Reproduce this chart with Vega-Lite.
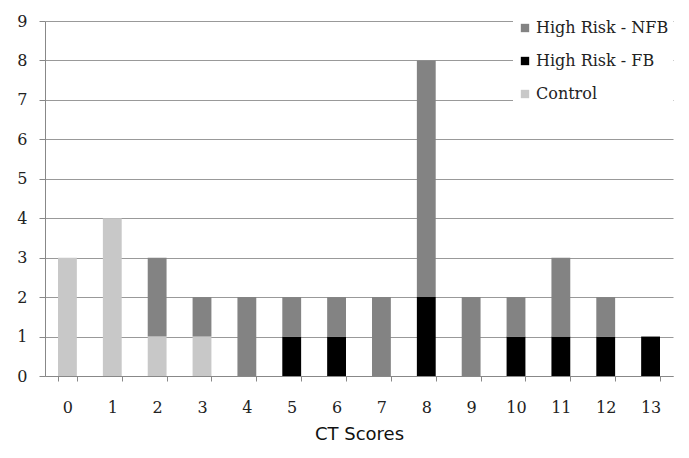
{
  "$schema": "https://vega.github.io/schema/vega-lite/v6.json",
  "width": 628,
  "height": 355,
  "autosize": {"type": "none"},
  "padding": {"left": 45, "top": 21, "right": 16, "bottom": 82},
  "background": "white",
  "config": {"view": {"stroke": null}},
  "data": {"values": [
    {"score": "0", "group": "Control", "count": 3},
    {"score": "1", "group": "Control", "count": 4},
    {"score": "2", "group": "Control", "count": 1},
    {"score": "2", "group": "High Risk - NFB", "count": 2},
    {"score": "3", "group": "Control", "count": 1},
    {"score": "3", "group": "High Risk - NFB", "count": 1},
    {"score": "4", "group": "High Risk - NFB", "count": 2},
    {"score": "5", "group": "High Risk - FB", "count": 1},
    {"score": "5", "group": "High Risk - NFB", "count": 1},
    {"score": "6", "group": "High Risk - FB", "count": 1},
    {"score": "6", "group": "High Risk - NFB", "count": 1},
    {"score": "7", "group": "High Risk - NFB", "count": 2},
    {"score": "8", "group": "High Risk - FB", "count": 2},
    {"score": "8", "group": "High Risk - NFB", "count": 6},
    {"score": "9", "group": "High Risk - NFB", "count": 2},
    {"score": "10", "group": "High Risk - FB", "count": 1},
    {"score": "10", "group": "High Risk - NFB", "count": 1},
    {"score": "11", "group": "High Risk - FB", "count": 1},
    {"score": "11", "group": "High Risk - NFB", "count": 2},
    {"score": "12", "group": "High Risk - FB", "count": 1},
    {"score": "12", "group": "High Risk - NFB", "count": 1},
    {"score": "13", "group": "High Risk - FB", "count": 1}
  ]},
  "mark": {"type": "bar"},
  "encoding": {
    "x": {
      "field": "score", "type": "ordinal",
      "sort": ["0","1","2","3","4","5","6","7","8","9","10","11","12","13"],
      "scale": {"paddingInner": 0.58, "paddingOuter": 0.29},
      "axis": {
        "title": "CT Scores", "titleFont": "DejaVu Sans", "titleFontSize": 18, "titleFontWeight": "normal",
        "titleColor": "#111", "titlePadding": 10,
        "labelAngle": 0, "labelFont": "DejaVu Serif", "labelFontSize": 16, "labelColor": "#222",
        "labelPadding": 18, "tickSize": 5, "tickColor": "#888", "domain": true, "domainColor": "#888",
        "tickBand": "extent", "grid": false
      }
    },
    "y": {
      "field": "count", "type": "quantitative", "stack": "zero",
      "scale": {"domain": [0, 9]},
      "axis": {
        "title": null, "values": [0,1,2,3,4,5,6,7,8,9], "labelOverlap": false,
        "labelFont": "DejaVu Serif", "labelFontSize": 16, "labelColor": "#222",
        "labelPadding": 12, "ticks": true, "tickSize": 6, "tickColor": "#888",
        "domain": true, "domainColor": "#888",
        "grid": true, "gridColor": "#999", "gridWidth": 1
      }
    },
    "color": {
      "field": "group", "type": "nominal",
      "scale": {"domain": ["High Risk - NFB", "High Risk - FB", "Control"], "range": ["#838383", "#000000", "#c8c8c8"]},
      "legend": {
        "title": null, "orient": "none", "legendX": 468, "legendY": -5,
        "fillColor": "white", "padding": 4,
        "symbolType": "square", "symbolSize": 70, "symbolStrokeWidth": 0,
        "labelFont": "DejaVu Serif", "labelFontSize": 16, "labelColor": "#222",
        "rowPadding": 17, "labelOffset": 3
      }
    },
    "order": {"field": "group", "sort": "ascending"}
  }
}
